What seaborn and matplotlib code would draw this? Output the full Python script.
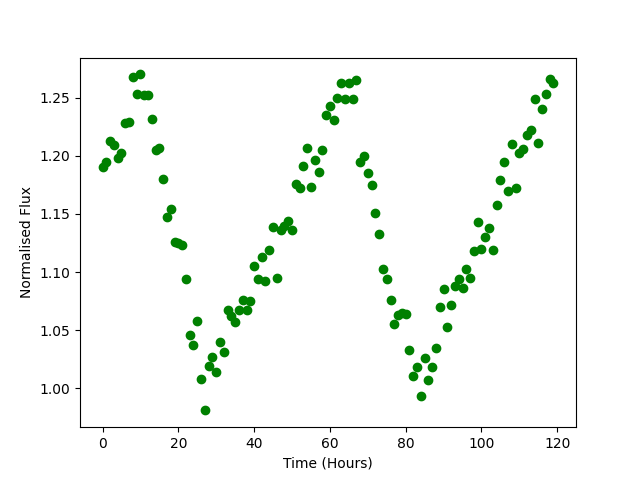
import numpy as np
import pandas as pd
import matplotlib
matplotlib.use("Agg")
import matplotlib.pyplot as plt
import seaborn as sns

# hourly time stamps and normalised flux
hours = list(range(120))
flux = [
    1.190, 1.195, 1.213, 1.209, 1.198, 1.202, 1.228, 1.229, 1.268, 1.253,
    1.270, 1.252, 1.252, 1.232, 1.205, 1.207, 1.180, 1.147, 1.154, 1.126,
    1.125, 1.123, 1.094, 1.046, 1.037, 1.058, 1.008, 0.981, 1.019, 1.027,
    1.014, 1.040, 1.031, 1.067, 1.062, 1.057, 1.067, 1.076, 1.067, 1.075,
    1.105, 1.094, 1.113, 1.092, 1.119, 1.139, 1.095, 1.136, 1.140, 1.144,
    1.136, 1.176, 1.172, 1.191, 1.207, 1.173, 1.196, 1.186, 1.205, 1.235,
    1.243, 1.231, 1.250, 1.263, 1.249, 1.263, 1.249, 1.265, 1.195, 1.200,
    1.185, 1.175, 1.151, 1.133, 1.103, 1.094, 1.076, 1.055, 1.063, 1.065,
    1.064, 1.033, 1.011, 1.018, 0.993, 1.026, 1.007, 1.018, 1.035, 1.070,
    1.085, 1.053, 1.072, 1.088, 1.094, 1.086, 1.103, 1.095, 1.118, 1.143,
    1.120, 1.130, 1.138, 1.119, 1.158, 1.179, 1.195, 1.170, 1.210, 1.172,
    1.202, 1.206, 1.218, 1.222, 1.249, 1.211, 1.240, 1.253, 1.266, 1.263,
]

df = pd.DataFrame({"time": hours, "flux": flux})

fig, ax = plt.subplots(figsize=(6.4, 4.8), dpi=100)
sns.scatterplot(data=df, x="time", y="flux", color="green", s=36,
                edgecolor="green", linewidth=1, ax=ax)
ax.set_xlabel("Time (Hours)")
ax.set_ylabel("Normalised Flux")
ax.set_xticks([0, 20, 40, 60, 80, 100, 120])
fig.savefig("out.png", dpi=100)
